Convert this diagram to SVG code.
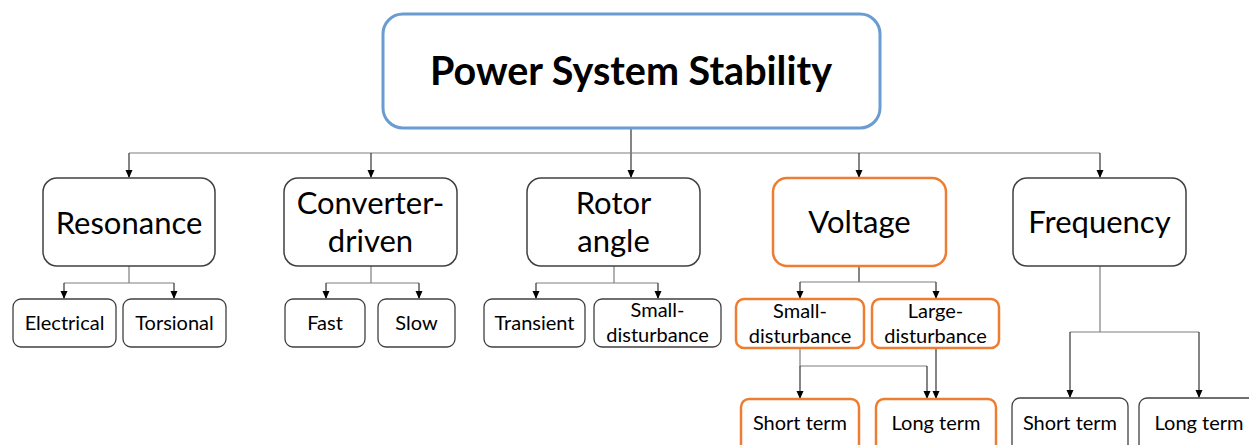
<svg xmlns="http://www.w3.org/2000/svg" width="1249" height="445" viewBox="0 0 1249 445">
<style>
text{font-family:Lato,"Open Sans","Liberation Sans",sans-serif;fill:#000;text-anchor:middle}
.title{font-size:39.5px;font-weight:bold}
.l1{font-size:31px}
.l2{font-size:20px}
.b1{fill:#fff;stroke:#404040;stroke-width:1.5}
.b2{fill:#fff;stroke:#404040;stroke-width:1.3}
.or{fill:#fff;stroke:#ed7d31;stroke-width:2.5}
.top{fill:#fff;stroke:#6a9bd1;stroke-width:3}
.c{fill:none;stroke:#7f7f7f;stroke-width:1.2}
.cd{fill:none;stroke:#333;stroke-width:1.2}
</style>
<defs>
<marker id="ah" markerWidth="8" markerHeight="8" refX="7" refY="4" orient="auto" markerUnits="userSpaceOnUse">
<path d="M0,0.5 L8,4 L0,7.5 Z" fill="#000"/>
</marker>
</defs>
<rect width="1249" height="445" fill="#fff"/>
<g id="connectors">
<path class="cd" d="M631,128 V177" marker-end="url(#ah)"/>
<path class="c" d="M129,153 H1100"/>
<path class="cd" d="M129,153 V177" marker-end="url(#ah)"/>
<path class="cd" d="M371,153 V177" marker-end="url(#ah)"/>
<path class="cd" d="M859,153 V177" marker-end="url(#ah)"/>
<path class="cd" d="M1100,153 V177" marker-end="url(#ah)"/>
<path class="c" d="M129,266 V283 M64,283 H174"/>
<path class="cd" d="M64,283 V298" marker-end="url(#ah)"/>
<path class="cd" d="M174,283 V298" marker-end="url(#ah)"/>
<path class="c" d="M371,266 V283 M326,283 H419"/>
<path class="cd" d="M326,283 V298" marker-end="url(#ah)"/>
<path class="cd" d="M419,283 V298" marker-end="url(#ah)"/>
<path class="c" d="M614,266 V283 M536,283 H658"/>
<path class="cd" d="M536,283 V298" marker-end="url(#ah)"/>
<path class="cd" d="M658,283 V298" marker-end="url(#ah)"/>
<path class="cd" d="M859,266 V282"/>
<path class="c" d="M800,282 H936"/>
<path class="cd" d="M800,282 V298" marker-end="url(#ah)"/>
<path class="cd" d="M936,282 V298" marker-end="url(#ah)"/>
<path class="c" d="M800,348 V366 H927"/>
<path class="cd" d="M800,366 V398" marker-end="url(#ah)"/>
<path class="cd" d="M927,366 V398" marker-end="url(#ah)"/>
<path class="cd" d="M936,348 V398" marker-end="url(#ah)"/>
<path class="c" d="M1100,266 V332 M1070,332 H1199"/>
<path class="cd" d="M1070,332 V397" marker-end="url(#ah)"/>
<path class="cd" d="M1199,332 V397" marker-end="url(#ah)"/>
</g>
<g id="power-system-stability">
<rect class="top" x="383" y="14" width="497" height="114" rx="20"/>
<text class="title" x="631" y="85">Power System Stability</text>
</g>
<g id="resonance">
<rect class="b1" x="43" y="178" width="172" height="88" rx="14"/>
<text class="l1" x="129" y="234">Resonance</text>
</g>
<g id="converter-driven">
<rect class="b1" x="284" y="178" width="173" height="88" rx="14"/>
<text class="l1" x="370.5" y="214">Converter-</text>
<text class="l1" x="370.5" y="252">driven</text>
</g>
<g id="rotor-angle">
<rect class="b1" x="527" y="178" width="173" height="88" rx="14"/>
<text class="l1" x="613.5" y="214">Rotor</text>
<text class="l1" x="613.5" y="252">angle</text>
</g>
<g id="voltage">
<rect class="or" x="773" y="178" width="173" height="88" rx="14"/>
<text class="l1" x="859.5" y="233">Voltage</text>
</g>
<g id="frequency">
<rect class="b1" x="1013" y="178" width="173" height="88" rx="14"/>
<text class="l1" x="1099.5" y="233">Frequency</text>
</g>
<g id="electrical">
<rect class="b2" x="13" y="299" width="103" height="48" rx="8"/>
<text class="l2" x="64.5" y="330">Electrical</text>
</g>
<g id="torsional">
<rect class="b2" x="123" y="299" width="103" height="48" rx="8"/>
<text class="l2" x="174.5" y="330">Torsional</text>
</g>
<g id="fast">
<rect class="b2" x="285" y="299" width="80" height="48" rx="8"/>
<text class="l2" x="325" y="330">Fast</text>
</g>
<g id="slow">
<rect class="b2" x="378" y="299" width="77" height="48" rx="8"/>
<text class="l2" x="416.5" y="330">Slow</text>
</g>
<g id="transient">
<rect class="b2" x="484" y="299" width="101" height="48" rx="8"/>
<text class="l2" x="534.5" y="330">Transient</text>
</g>
<g id="rotor-small-disturbance">
<rect class="b2" x="594" y="299" width="127" height="48" rx="8"/>
<text class="l2" x="657.5" y="317">Small-</text>
<text class="l2" x="657.5" y="342">disturbance</text>
</g>
<g id="voltage-small-disturbance">
<rect class="or" x="736" y="299" width="128" height="49" rx="8"/>
<text class="l2" x="800" y="318">Small-</text>
<text class="l2" x="800" y="343">disturbance</text>
</g>
<g id="voltage-large-disturbance">
<rect class="or" x="872" y="299" width="127" height="49" rx="8"/>
<text class="l2" x="935.5" y="318">Large-</text>
<text class="l2" x="935.5" y="343">disturbance</text>
</g>
<g id="voltage-short-term">
<rect class="or" x="741" y="399" width="118" height="60" rx="8"/>
<text class="l2" x="800" y="430">Short term</text>
</g>
<g id="voltage-long-term">
<rect class="or" x="876" y="399" width="120" height="60" rx="8"/>
<text class="l2" x="936" y="430">Long term</text>
</g>
<g id="frequency-short-term">
<rect class="b2" x="1012" y="398" width="116" height="60" rx="8"/>
<text class="l2" x="1070" y="430">Short term</text>
</g>
<g id="frequency-long-term">
<rect class="b2" x="1139" y="398" width="120" height="60" rx="8"/>
<text class="l2" x="1199" y="430">Long term</text>
</g>
</svg>
